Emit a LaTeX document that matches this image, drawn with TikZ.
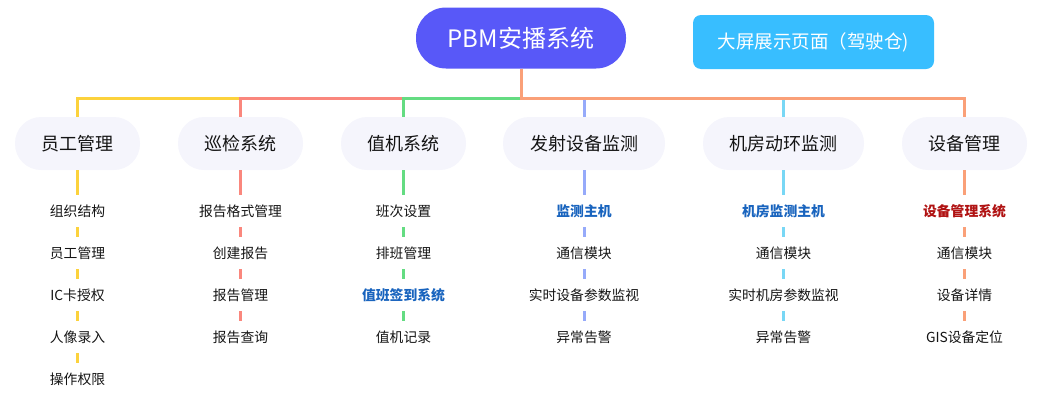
\documentclass[tikz,border=0pt]{standalone}
\usepackage{fontspec}
\setmainfont{Noto Sans CJK SC}
\definecolor{rootc}{RGB}{88,88,248}
\definecolor{screenc}{RGB}{56,190,255}
\definecolor{pillbg}{RGB}{245,245,252}
\definecolor{txt}{RGB}{20,20,20}
\definecolor{hotblue}{RGB}{25,100,190}
\definecolor{hotred}{RGB}{176,18,18}
\definecolor{cA}{RGB}{252,210,60}
\definecolor{cB}{RGB}{250,135,125}
\definecolor{cC}{RGB}{100,220,130}
\definecolor{cD}{RGB}{150,170,250}
\definecolor{cE}{RGB}{120,215,245}
\definecolor{cF}{RGB}{250,160,120}
\tikzset{
  rootbox/.style={rounded corners=30pt, fill=rootc, minimum width=210pt, minimum height=61pt, inner sep=0pt, text=white, font=\fontsize{24}{26}\selectfont},
  screenbox/.style={rounded corners=8pt, fill=screenc, minimum width=241pt, minimum height=54pt, inner sep=0pt, text=white, font=\fontsize{18.5}{20}\selectfont},
  pill/.style={rounded corners=26pt, fill=pillbg, minimum height=53pt, inner sep=0pt, text=txt, font=\fontsize{18}{20}\selectfont},
  item/.style={minimum height=32pt, inner sep=0pt, text=txt, font=\fontsize{13.8}{15}\selectfont},
  hotb/.style={item, text=hotblue, font=\fontsize{13.8}{15}\selectfont\bfseries},
  hotr/.style={item, text=hotred, font=\fontsize{13.8}{15}\selectfont\bfseries},
  trunk/.style={line width=3pt},
  twig/.style={line width=3pt},
}
\begin{document}
\begin{tikzpicture}[x=1pt,y=-1pt]
\useasboundingbox (0,0) rectangle (1046,410);
\node[rootbox] (root) at (521,38) {PBM安播系统};
\node[screenbox] (screen) at (813.5,42) {大屏展示页面（驾驶仓)};
\coordinate (bar) at (521,98);
% level 2
\node[pill, minimum width=125pt] (p1) at (77.5,143.5) {员工管理};
\node[pill, minimum width=125pt] (p2) at (240.5,143.5) {巡检系统};
\node[pill, minimum width=125pt] (p3) at (403.5,143.5) {值机系统};
\node[pill, minimum width=162pt] (p4) at (584,143.5) {发射设备监测};
\node[pill, minimum width=161pt] (p5) at (783.5,143.5) {机房动环监测};
\node[pill, minimum width=125pt] (p6) at (964.5,143.5) {设备管理};
% trunk connectors
\draw[trunk, cA] (root.south) -- (root.south |- bar) -| (p1.north);
\draw[trunk, cB] (root.south) -- (root.south |- bar) -| (p2.north);
\draw[trunk, cC] (root.south) -- (root.south |- bar) -| (p3.north);
\draw[trunk, cD] (root.south) -- (root.south |- bar) -| (p4.north);
\draw[trunk, cE] (root.south) -- (root.south |- bar) -| (p5.north);
\draw[trunk, cF] (root.south) -- (root.south |- bar) -| (p6.north);
% column 1
\node[item] (a1) at (77.5,211) {组织结构};
\node[item] (a2) at (77.5,253) {员工管理};
\node[item] (a3) at (77.5,295) {IC卡授权};
\node[item] (a4) at (77.5,337) {人像录入};
\node[item] (a5) at (77.5,379) {操作权限};
\draw[twig, cA] (p1) -- (a1);
\draw[twig, cA] (a1) -- (a2);
\draw[twig, cA] (a2) -- (a3);
\draw[twig, cA] (a3) -- (a4);
\draw[twig, cA] (a4) -- (a5);
% column 2
\node[item] (b1) at (240.5,211) {报告格式管理};
\node[item] (b2) at (240.5,253) {创建报告};
\node[item] (b3) at (240.5,295) {报告管理};
\node[item] (b4) at (240.5,337) {报告查询};
\draw[twig, cB] (p2) -- (b1);
\draw[twig, cB] (b1) -- (b2);
\draw[twig, cB] (b2) -- (b3);
\draw[twig, cB] (b3) -- (b4);
% column 3
\node[item] (c1) at (403.5,211) {班次设置};
\node[item] (c2) at (403.5,253) {排班管理};
\node[hotb] (c3) at (403.5,295) {值班签到系统};
\node[item] (c4) at (403.5,337) {值机记录};
\draw[twig, cC] (p3) -- (c1);
\draw[twig, cC] (c1) -- (c2);
\draw[twig, cC] (c2) -- (c3);
\draw[twig, cC] (c3) -- (c4);
% column 4
\node[hotb] (d1) at (584,211) {监测主机};
\node[item] (d2) at (584,253) {通信模块};
\node[item] (d3) at (584,295) {实时设备参数监视};
\node[item] (d4) at (584,337) {异常告警};
\draw[twig, cD] (p4) -- (d1);
\draw[twig, cD] (d1) -- (d2);
\draw[twig, cD] (d2) -- (d3);
\draw[twig, cD] (d3) -- (d4);
% column 5
\node[hotb] (e1) at (783.5,211) {机房监测主机};
\node[item] (e2) at (783.5,253) {通信模块};
\node[item] (e3) at (783.5,295) {实时机房参数监视};
\node[item] (e4) at (783.5,337) {异常告警};
\draw[twig, cE] (p5) -- (e1);
\draw[twig, cE] (e1) -- (e2);
\draw[twig, cE] (e2) -- (e3);
\draw[twig, cE] (e3) -- (e4);
% column 6
\node[hotr] (f1) at (964.5,211) {设备管理系统};
\node[item] (f2) at (964.5,253) {通信模块};
\node[item] (f3) at (964.5,295) {设备详情};
\node[item] (f4) at (964.5,337) {GIS设备定位};
\draw[twig, cF] (p6) -- (f1);
\draw[twig, cF] (f1) -- (f2);
\draw[twig, cF] (f2) -- (f3);
\draw[twig, cF] (f3) -- (f4);
\end{tikzpicture}
\end{document}
